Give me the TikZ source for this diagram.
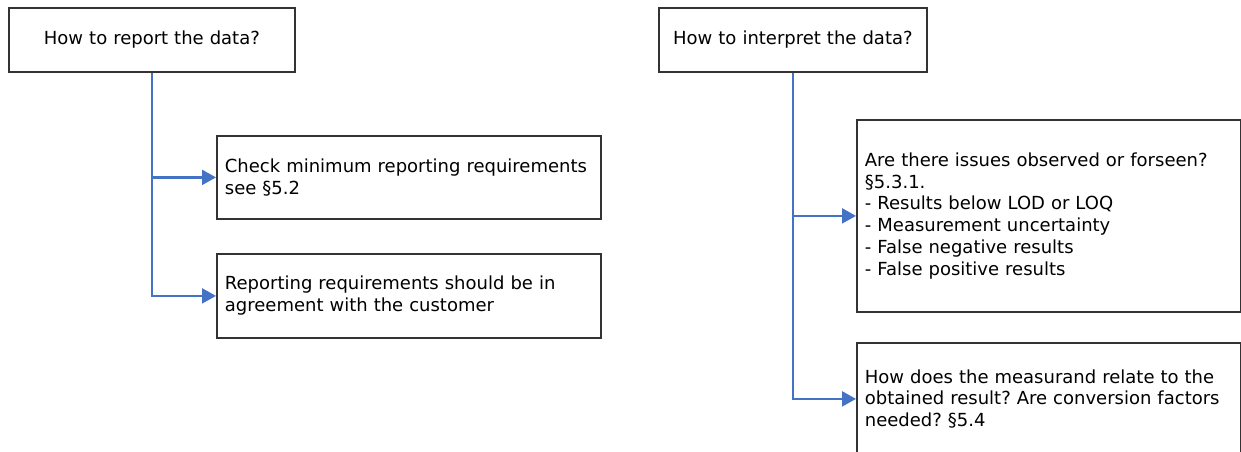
\documentclass[tikz,border=0pt]{standalone}
\usepackage{fontspec}
\setmainfont{DejaVu Sans}
\usetikzlibrary{arrows.meta}
\definecolor{linkblue}{HTML}{4472C4}
\definecolor{boxgray}{HTML}{333333}
\frenchspacing

\begin{document}
\begin{tikzpicture}[x=1pt, y=-1pt,
  qbox/.style={draw=boxgray, line width=1.8pt, rectangle, anchor=north west, inner xsep=8pt, inner ysep=0pt, align=center, font=\fontsize{18}{21.8}\selectfont},
  ibox/.style={qbox, align=left, text width=368},
  link/.style={draw=linkblue, line width=2.2pt, -{Triangle[length=14pt,width=15pt]}}]
\useasboundingbox (0,0) rectangle (1241,452);
\clip (0,0) rectangle (1241,452);

\node (report) [qbox, text width=270, minimum height=64] at (8,7) {How to report the data?};
\node (check) [ibox, minimum height=83] at (216,135) {Check minimum reporting requirements\\see §5.2};
\node (agree) [ibox, minimum height=84] at (216,253) {Reporting requirements should be in\\agreement with the customer};

\node (interp) [qbox, text width=252, minimum height=64] at (658,7) {How to interpret the data?};
\node (issues) [ibox, minimum height=192] at (856,119) {Are there issues observed or forseen?\\§5.3.1.\\- Results below LOD or LOQ\\- Measurement uncertainty\\- False negative results\\- False positive results};
\node (measurand) [ibox, minimum height=112] at (856,342) {How does the measurand relate to the\\obtained result? Are conversion factors\\needed? §5.4};

\draw [link] (report.south) |- (check.west);
\draw [link] (report.south) |- (agree.west);
\draw [link] (interp.south) |- (issues.west);
\draw [link] (interp.south) |- (measurand.west);
\end{tikzpicture}
\end{document}
